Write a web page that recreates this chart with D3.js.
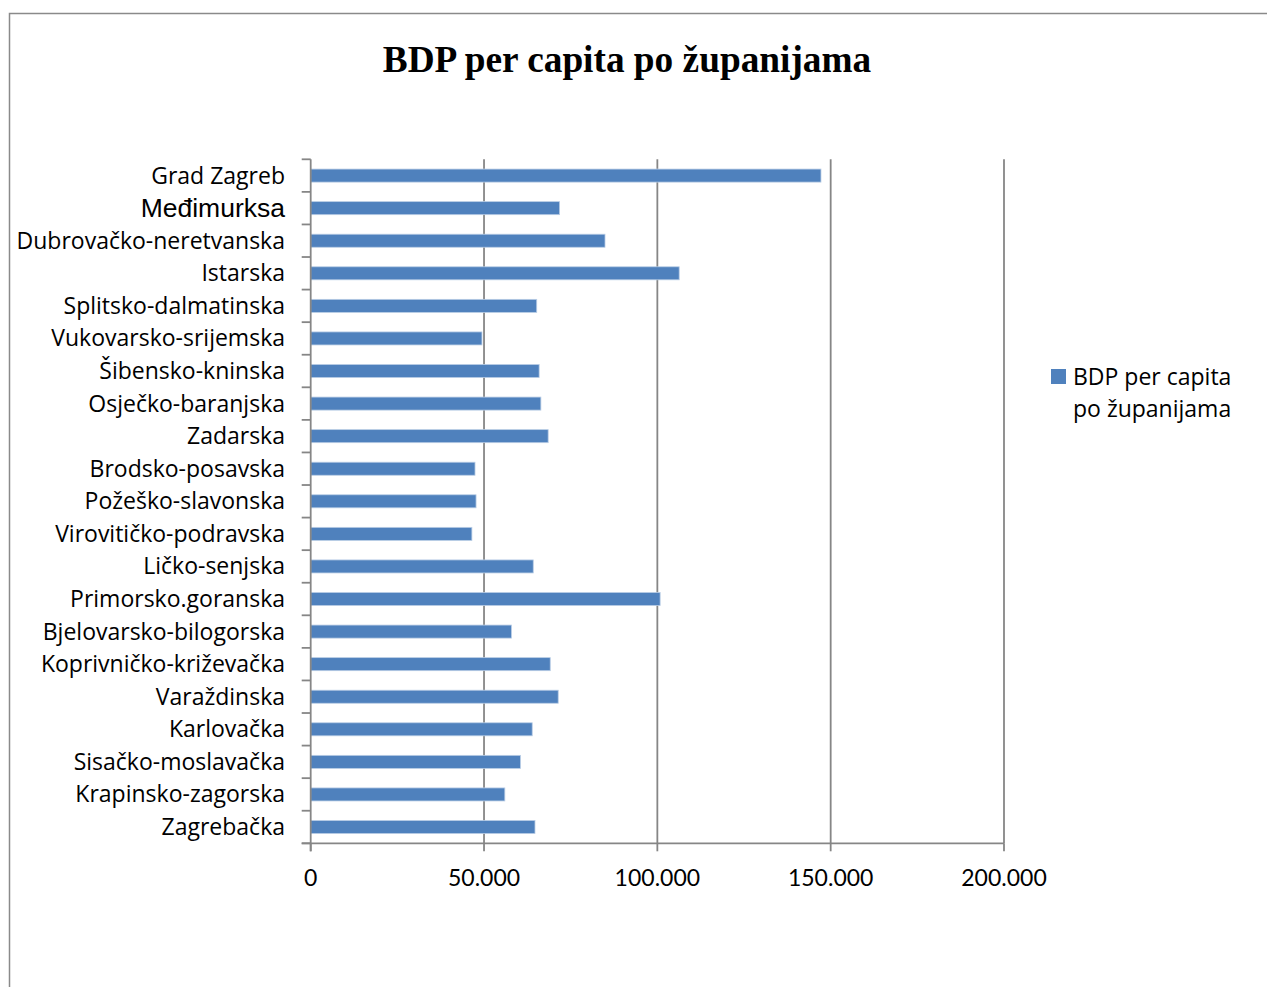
<!DOCTYPE html>
<html><head><meta charset="utf-8">
<script src="https://cdn.jsdelivr.net/npm/d3@7/dist/d3.min.js"></script>
<style>html,body{margin:0;padding:0;background:#fff;}svg{display:block;}</style>
</head><body>
<script>
const categories = ["Grad Zagreb","Međimurksa","Dubrovačko-neretvanska","Istarska","Splitsko-dalmatinska","Vukovarsko-srijemska","Šibensko-kninska","Osječko-baranjska","Zadarska","Brodsko-posavska","Požeško-slavonska","Virovitičko-podravska","Ličko-senjska","Primorsko.goranska","Bjelovarsko-bilogorska","Koprivničko-križevačka","Varaždinska","Karlovačka","Sisačko-moslavačka","Krapinsko-zagorska","Zagrebačka"];
const values = [147200,71800,84900,106300,65200,49400,65900,66400,68500,47400,47700,46500,64200,100800,57900,69100,71400,63900,60500,56000,64700];
const xTicks = [0,50000,100000,150000,200000];
const tickLabels = ["0","50.000","100.000","150.000","200.000"];
const title = "BDP per capita po županijama";
const legendLines = ["BDP per capita","po županijama"];

(function(){
const W=1267,H=987;
const svg=d3.select("body").append("svg").attr("width",W).attr("height",H);
svg.append("rect").attr("width",W).attr("height",H).attr("fill","#fff");
svg.append("path").attr("d","M9.5,"+H+"V13.5H"+W).attr("fill","none").attr("stroke","#8a8a8a").attr("stroke-width",1.5);

svg.append("text").attr("x",627).attr("y",72).attr("text-anchor","middle")
  .attr("font-family","'Liberation Serif','Times New Roman',serif").attr("font-weight","bold")
  .attr("font-size",37.3).attr("fill","#000").text(title);

const pL=310.7,pR=1004,pT=159.3,pB=843.3;
const x=d3.scaleLinear().domain([0,200000]).range([pL,pR]);
const y=d3.scaleBand().domain(categories).range([pT,pB]).paddingInner(0.6).paddingOuter(0.3);
const yb=d3.scaleBand().domain(categories).range([pT,pB]).padding(0);
const axisCol="#868686";

svg.append("g").selectAll("line").data(xTicks.filter(d=>d>0)).join("line")
  .attr("x1",d=>x(d)).attr("x2",d=>x(d)).attr("y1",pT).attr("y2",pB)
  .attr("stroke",axisCol).attr("stroke-width",1.8);

svg.append("g").selectAll("rect").data(categories).join("rect")
  .attr("x",x(0)).attr("y",d=>y(d)).attr("height",y.bandwidth())
  .attr("width",(d,i)=>x(values[i])-x(0))
  .attr("fill","#4F81BD").attr("stroke","#b9cde5").attr("stroke-width",0.8);

svg.append("line").attr("x1",pL).attr("x2",pL).attr("y1",pT).attr("y2",pB+8)
  .attr("stroke",axisCol).attr("stroke-width",1.8);
const bounds=categories.map(c=>yb(c)).concat([pB]);
svg.append("g").selectAll("line").data(bounds).join("line")
  .attr("x1",pL-9).attr("x2",pL).attr("y1",d=>d).attr("y2",d=>d)
  .attr("stroke",axisCol).attr("stroke-width",1.8);

svg.append("line").attr("x1",pL-9).attr("x2",pR).attr("y1",pB).attr("y2",pB)
  .attr("stroke",axisCol).attr("stroke-width",1.8);
svg.append("g").selectAll("line").data(xTicks).join("line")
  .attr("x1",d=>x(d)).attr("x2",d=>x(d)).attr("y1",pB).attr("y2",pB+8)
  .attr("stroke",axisCol).attr("stroke-width",1.8);
svg.append("g").selectAll("text").data(xTicks).join("text")
  .attr("x",d=>x(d)).attr("y",886).attr("text-anchor","middle")
  .attr("font-family","Lato,'Open Sans',sans-serif").attr("font-size",23).attr("fill","#000")
  .text((d,i)=>tickLabels[i]);

svg.append("g").selectAll("text").data(categories).join("text")
  .attr("x",285).attr("y",d=>y(d)+y.bandwidth()/2).attr("dy","0.35em").attr("text-anchor","end")
  .attr("font-family",d=>d.indexOf("đ")>=0?"'Liberation Sans',Arial,sans-serif":"'Open Sans',Lato,sans-serif")
  .attr("font-size",d=>d.indexOf("đ")>=0?26.5:23).attr("fill","#000").text(d=>d);

svg.append("rect").attr("x",1051).attr("y",369).attr("width",15).attr("height",15).attr("fill","#4F81BD");
svg.append("g").selectAll("text").data(legendLines).join("text")
  .attr("x",1073).attr("y",(d,i)=>385+i*32)
  .attr("font-family","'Open Sans',Lato,sans-serif").attr("font-size",23).attr("fill","#000").text(d=>d);
})();
</script>
</body></html>
